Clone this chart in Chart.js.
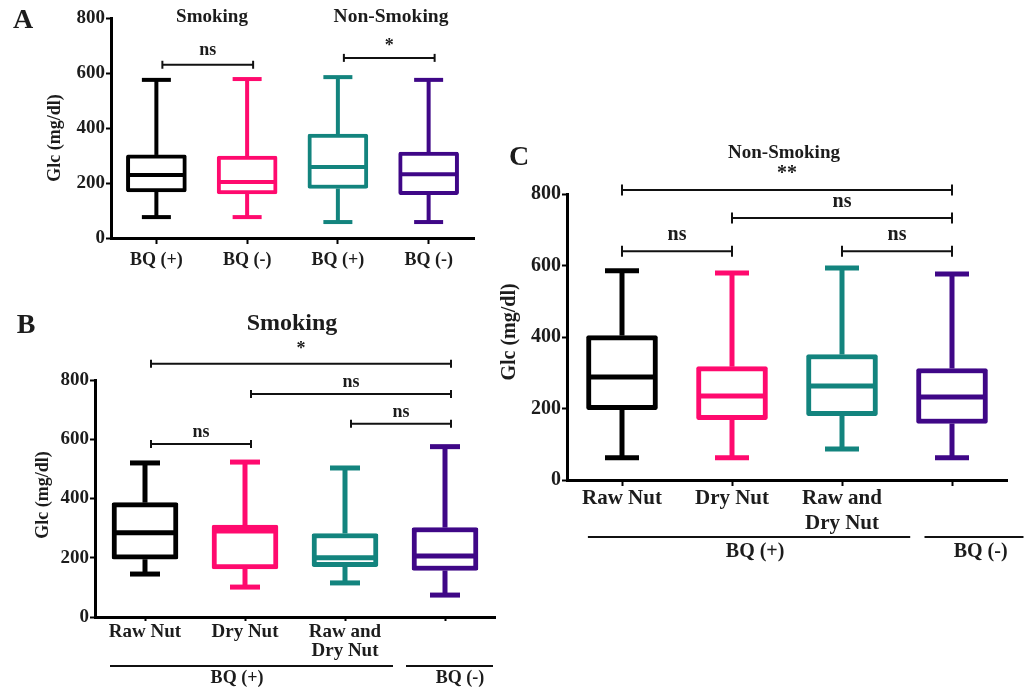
<!DOCTYPE html>
<html>
<head>
<meta charset="utf-8">
<script src="https://cdn.jsdelivr.net/npm/chart.js@4.4.1/dist/chart.umd.min.js"></script>
<style>
  body { margin: 0; background: #fff; }
  canvas { position: absolute; }
</style>
</head>
<body>
<canvas id="chartA" width="490" height="292" style="left:0px;top:0px"></canvas>
<canvas id="chartB" width="510" height="388" style="left:0px;top:300px"></canvas>
<canvas id="chartC" width="535" height="440" style="left:490px;top:130px"></canvas>
<script>
// panel A - BQ (+) / BQ (-) for smokers and non-smokers
const labelsA = ['BQ (+)', 'BQ (-)', 'BQ (+)', 'BQ (-)'];
const minA = [76, 76, 58, 58];
const q1A  = [168, 160, 180, 158];
const medA = [229, 204, 258, 232];
const q3A  = [302, 298, 378, 312];
const maxA = [575, 578, 585, 575];
const sigA = [[0, 1, 630, 'ns'], [2, 3, 655, '*']];

// panel B - smoking
const labelsB = ['Raw Nut', 'Dry Nut', ['Raw and', 'Dry Nut'], ''];
const minB = [145, 101, 115, 74];
const q1B  = [195, 162, 170, 157];
const medB = [284, 290, 200, 206];
const q3B  = [386, 310, 282, 302];
const maxB = [520, 523, 503, 575];
const sigB = [[0, 3, 855, '*'], [1, 3, 753, 'ns'], [2, 3, 652, 'ns'], [0, 1, 584, 'ns']];

// panel C - non-smoking
const labelsC = ['Raw Nut', 'Dry Nut', ['Raw and', 'Dry Nut'], ''];
const minC = [62, 62, 87, 62];
const q1C  = [197, 169, 180, 158];
const medC = [288, 235, 263, 232];
const q3C  = [404, 317, 351, 312];
const maxC = [585, 579, 593, 576];
const sigC = [[0, 3, 811, '**'], [1, 3, 733, 'ns'], [0, 1, 640, 'ns'], [2, 3, 640, 'ns']];

const yTicks = [0, 200, 400, 600, 800];
const colors = ['#000000', '#ff0a6e', '#13847e', '#3f0787'];

const family = "'Liberation Serif', 'Times New Roman', serif";
const ink = '#1c1c1c';

function drawText(ctx, s, x, y, size, rot) {
  ctx.save();
  ctx.font = 'bold ' + size + 'px ' + family;
  ctx.fillStyle = ink;
  ctx.textAlign = 'center';
  ctx.textBaseline = 'middle';
  ctx.translate(x, y);
  if (rot) ctx.rotate(rot);
  ctx.fillText(s, 0, 0);
  ctx.restore();
}

function seg(ctx, x1, y1, x2, y2) {
  ctx.beginPath();
  ctx.moveTo(x1, y1);
  ctx.lineTo(x2, y2);
  ctx.stroke();
}

// whiskers, medians, significance brackets and panel texts
function boxExtras(cfg) {
  return {
    id: 'boxExtras',
    afterDatasetsDraw(chart) {
      const { ctx } = chart;
      const x = chart.scales.x, y = chart.scales.y;
      const ox = cfg.origin[0], oy = cfg.origin[1];
      ctx.save();
      ctx.lineCap = 'butt';
      cfg.min.forEach((mn, i) => {
        const cx = x.getPixelForValue(i);
        ctx.strokeStyle = colors[i];
        ctx.lineWidth = cfg.lw;
        seg(ctx, cx, y.getPixelForValue(cfg.q3[i]), cx, y.getPixelForValue(cfg.max[i]));
        seg(ctx, cx, y.getPixelForValue(cfg.q1[i]), cx, y.getPixelForValue(mn));
        seg(ctx, cx - cfg.cap / 2, y.getPixelForValue(cfg.max[i]), cx + cfg.cap / 2, y.getPixelForValue(cfg.max[i]));
        seg(ctx, cx - cfg.cap / 2, y.getPixelForValue(mn), cx + cfg.cap / 2, y.getPixelForValue(mn));
        seg(ctx, cx - cfg.boxW / 2 + 1, y.getPixelForValue(cfg.med[i]), cx + cfg.boxW / 2 - 1, y.getPixelForValue(cfg.med[i]));
      });

      ctx.strokeStyle = '#111';
      ctx.lineWidth = 2;
      cfg.sig.forEach(([a, b, v, s]) => {
        const x1 = x.getPixelForValue(a) + cfg.dx, x2 = x.getPixelForValue(b) + cfg.dx;
        const yy = y.getPixelForValue(v);
        seg(ctx, x1, yy, x2, yy);
        seg(ctx, x1, yy - cfg.capH / 2, x1, yy + cfg.capH / 2);
        seg(ctx, x2, yy - cfg.capH / 2, x2, yy + cfg.capH / 2);
        drawText(ctx, s, (x1 + x2) / 2, yy - (s === 'ns' ? cfg.nsGap : cfg.starGap), cfg.sigSize);
      });

      (cfg.groups || []).forEach(g => {
        const yy = chart.chartArea.bottom + g.dy;
        seg(ctx, x.getPixelForValue(g.from), yy, x.getPixelForValue(g.to), yy);
        drawText(ctx, g.text, x.getPixelForValue(g.at), yy + g.ty, cfg.groupSize);
      });

      cfg.texts.forEach(t => drawText(ctx, t[0], t[1] - ox, t[2] - oy, t[3], t[4]));
      ctx.restore();
    }
  };
}

function makeChart(id, cfg) {
  const [ox, oy] = cfg.origin;
  const cv = document.getElementById(id);
  const pad = {
    left: cfg.area[0] - ox - cfg.yW,
    top: cfg.area[1] - oy,
    right: ox + cv.width - cfg.area[2],
    bottom: oy + cv.height - cfg.area[3] - cfg.xH
  };
  return new Chart(cv, {
    type: 'bar',
    data: {
      labels: cfg.labels,
      datasets: [{
        data: cfg.q1.map((v, i) => [v, cfg.q3[i]]),
        backgroundColor: '#ffffff',
        borderColor: colors,
        borderWidth: cfg.lw,
        borderSkipped: false,
        borderRadius: 2,
        barThickness: cfg.boxW
      }]
    },
    options: {
      responsive: false,
      animation: false,
      events: [],
      layout: { padding: pad },
      plugins: { legend: { display: false }, tooltip: { enabled: false } },
      scales: {
        x: {
          grid: { drawOnChartArea: false, offset: false, tickLength: cfg.xTick, tickWidth: 2, tickColor: '#000' },
          border: { color: '#000', width: 3 },
          ticks: { color: ink, padding: cfg.xPad, maxRotation: 0, autoSkip: false,
                   font: { family: family, weight: 'bold', size: cfg.catSize, lineHeight: cfg.catLH } },
          afterFit: s => { s.height = cfg.xH; }
        },
        y: {
          min: 0, max: 800,
          afterBuildTicks: s => { s.ticks = yTicks.map(v => ({ value: v })); },
          grid: { drawOnChartArea: false, tickLength: 5, tickWidth: 2, tickColor: '#000' },
          border: { color: '#000', width: 3 },
          ticks: { color: ink, padding: 1, font: { family: family, weight: 'bold', size: cfg.tickSize } },
          afterFit: s => { s.width = cfg.yW; }
        }
      }
    },
    plugins: [boxExtras(cfg)]
  });
}

const up = -Math.PI / 2;

makeChart('chartA', {
  origin: [0, 0], area: [111, 18, 474, 238], yW: 55, xH: 45,
  labels: labelsA, min: minA, q1: q1A, med: medA, q3: q3A, max: maxA, sig: sigA,
  lw: 4, boxW: 60, cap: 29, capH: 8, dx: 6, nsGap: 14, starGap: 12, sigSize: 18,
  xTick: 6, xPad: 6, catSize: 18, catLH: 1.2, tickSize: 19,
  texts: [
    ['A', 23, 21, 28],
    ['Smoking', 212, 17, 19],
    ['Non-Smoking', 391, 17, 19.5],
    ['Glc (mg/dl)', 55, 138, 18, up]
  ]
});

makeChart('chartB', {
  origin: [0, 300], area: [95, 380, 495, 617], yW: 55, xH: 45,
  labels: labelsB, min: minB, q1: q1B, med: medB, q3: q3B, max: maxB, sig: sigB,
  lw: 5, boxW: 66, cap: 30, capH: 8, dx: 6, nsGap: 12, starGap: 14, sigSize: 18,
  xTick: 4, xPad: 1, catSize: 19, catLH: 1.02, tickSize: 19, groupSize: 18,
  groups: [
    { text: 'BQ (+)', from: -0.35, to: 2.48, at: 0.92, dy: 49, ty: 12 },
    { text: 'BQ (-)', from: 2.61, to: 3.48, at: 3.15, dy: 49, ty: 12 }
  ],
  texts: [
    ['B', 26, 326, 28],
    ['Smoking', 292, 324, 24],
    ['Glc (mg/dl)', 43, 495, 18, up]
  ]
});

makeChart('chartC', {
  origin: [490, 130], area: [567, 194, 1007, 480], yW: 55, xH: 55,
  labels: labelsC, min: minC, q1: q1C, med: medC, q3: q3C, max: maxC, sig: sigC,
  lw: 5, boxW: 71, cap: 34, capH: 11, dx: 0, nsGap: 16, starGap: 16, sigSize: 20,
  xTick: 6, xPad: 1, catSize: 21, catLH: 1.15, tickSize: 20, groupSize: 20,
  groups: [
    { text: 'BQ (+)', from: -0.31, to: 2.62, at: 1.21, dy: 57, ty: 15 },
    { text: 'BQ (-)', from: 2.75, to: 3.65, at: 3.26, dy: 57, ty: 15 }
  ],
  texts: [
    ['C', 519, 158, 28],
    ['Non-Smoking', 784, 153, 19],
    ['Glc (mg/dl)', 510, 332, 20, up]
  ]
});
</script>
</body>
</html>
